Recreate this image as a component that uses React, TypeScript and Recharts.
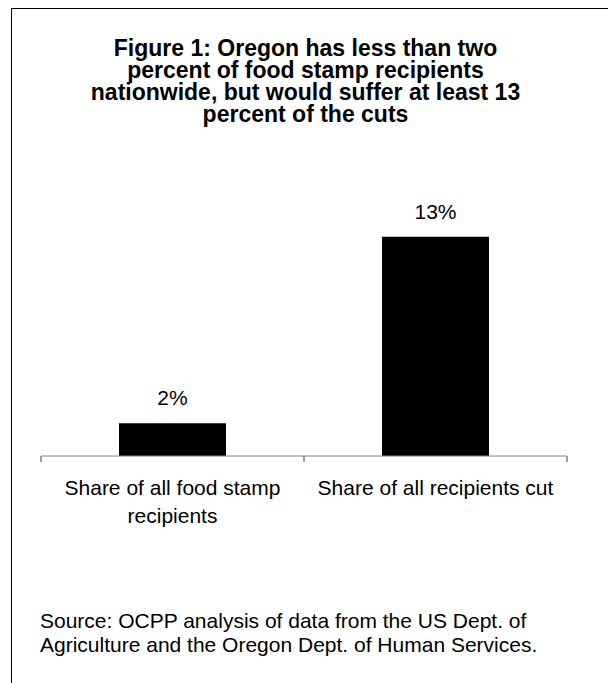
import React from "react";
import { BarChart, Bar, XAxis, YAxis, LabelList } from "recharts";

const categories = ["Share of all food stamp recipients", "Share of all recipients cut"];
const shares = [1.94, 13];
const valueLabels = ["2%", "13%"];
const titleLines = [
  "Figure 1: Oregon has less than two",
  "percent of food stamp recipients",
  "nationwide, but would suffer at least 13",
  "percent of the cuts",
];
const sourceLines = [
  "Source: OCPP analysis of data from the US Dept. of",
  "Agriculture and the Oregon Dept. of Human Services.",
];

const data = categories.map((c, i) => ({ name: c, value: shares[i], label: valueLabels[i] }));

const FONT = '"Liberation Sans", Arial, Helvetica, sans-serif';

function wrap(text: string, maxChars: number): string[] {
  const words = text.split(" ");
  const lines: string[] = [];
  let cur = "";
  for (const w of words) {
    const next = cur ? cur + " " + w : w;
    if (next.length > maxChars && cur) {
      lines.push(cur);
      cur = w;
    } else {
      cur = next;
    }
  }
  if (cur) lines.push(cur);
  return lines;
}

const CategoryTick = (props: any) => {
  const { x, y, payload, index } = props;
  const half = payload && typeof payload.offset === "number" && payload.offset > 0 ? payload.offset : 131.5;
  const lines = wrap(String(payload.value), 27);
  return (
    <g>
      <line x1={x - half} x2={x - half} y1={y} y2={y + 6} stroke="#404040" strokeWidth={1} />
      {index === categories.length - 1 && (
        <line x1={x + half} x2={x + half} y1={y} y2={y + 6} stroke="#404040" strokeWidth={1} />
      )}
      <text x={x} y={y + 39} textAnchor="middle" fontFamily={FONT} fontSize={21} fill="#000">
        {lines.map((l, i) => (
          <tspan key={i} x={x} dy={i === 0 ? 0 : 28}>
            {l}
          </tspan>
        ))}
      </text>
    </g>
  );
};

export default function App() {
  return (
    <div>
      <div
        style={{
          position: "absolute",
          left: 11,
          top: 8,
          width: 597,
          height: 675,
          boxSizing: "border-box",
          borderTop: "1px solid #000",
          borderLeft: "1px solid #000",
        }}
      />
      <div
        style={{
          position: "absolute",
          left: 11,
          top: 37.2,
          width: 589,
          textAlign: "center",
          fontFamily: FONT,
          fontWeight: "bold",
          fontSize: 23,
          lineHeight: "22px",
          color: "#000",
        }}
      >
        {titleLines.map((l, i) => (
          <div key={i}>{l}</div>
        ))}
      </div>
      <div style={{ position: "absolute", left: 0, top: 0 }}>
        <BarChart
          width={608}
          height={683}
          data={data}
          margin={{ top: 220, right: 41, bottom: 167, left: 41 }}
        >
          <XAxis
            dataKey="name"
            interval={0}
            height={60}
            axisLine={{ stroke: "#808080", strokeWidth: 1 }}
            tickLine={false}
            tickSize={0}
            tickMargin={0}
            tick={<CategoryTick />}
          />
          <YAxis hide domain={[0, 14]} />
          <Bar dataKey="value" fill="#000" barSize={107} isAnimationActive={false}>
            <LabelList
              dataKey="label"
              position="top"
              offset={18}
              fontFamily={FONT}
              fontSize={21}
              fill="#000"
            />
          </Bar>
        </BarChart>
      </div>
      <div
        style={{
          position: "absolute",
          left: 40,
          top: 609.4,
          fontFamily: FONT,
          fontSize: 21,
          lineHeight: "23.3px",
          color: "#000",
          whiteSpace: "nowrap",
        }}
      >
        {sourceLines.map((l, i) => (
          <div key={i}>{l}</div>
        ))}
      </div>
    </div>
  );
}
